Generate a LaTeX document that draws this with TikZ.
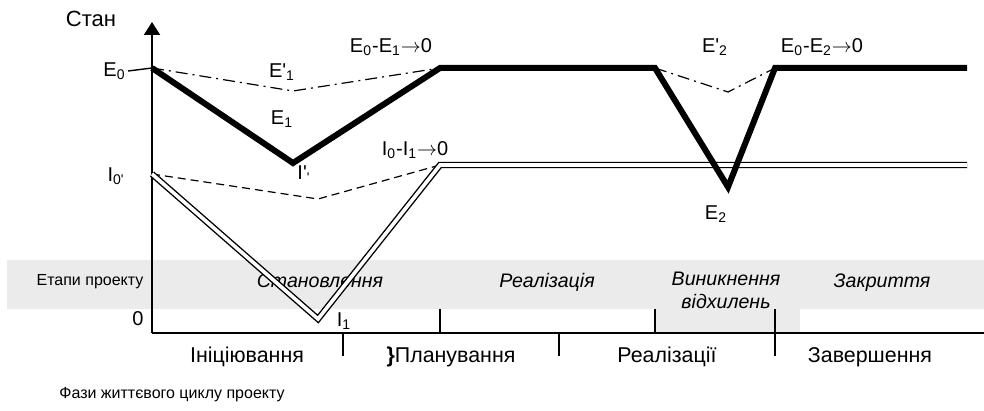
\documentclass[tikz,border=0pt]{standalone}
\usepackage{fontspec}
\setmainfont{Liberation Sans}
\usetikzlibrary{arrows.meta}
\definecolor{bandgray}{HTML}{EBEBEB}
\tikzset{
  axis/.style={draw=black,line width=1.1pt},
  tick/.style={draw=black,line width=0.7pt},
  state line/.style={draw=black,line width=3pt,line join=miter},
  ideal line/.style={draw=black,line width=0.6pt,
    dash pattern=on 6pt off 2.5pt on 1pt off 2.5pt},
  info line/.style={draw=black,double=white,line width=0.7pt,
    double distance=1.8pt},
  info guide/.style={draw=black,line width=0.6pt,dash pattern=on 4pt off 2.5pt},
  lbl/.style={font=\fontsize{10}{12}\selectfont,inner sep=1pt},
  phase/.style={font=\fontsize{10.7}{13}\selectfont,inner sep=1pt,anchor=base},
  stage/.style={font=\fontsize{9.8}{11.5}\selectfont\itshape,inner sep=1pt,
    align=center,anchor=base},
  small/.style={font=\fontsize{8}{9.5}\selectfont,inner sep=1pt}
}
\newcommand{\pr}{\textquotesingle}

\begin{document}
\begin{tikzpicture}[x=0.5pt,y=-0.5pt]
  \useasboundingbox (0,0) rectangle (984,411);

  % stages band
  \fill[bandgray] (7,260) rectangle (984,309);
  \fill[bandgray] (655,309) rectangle (800,333);
  \node[small] (stages) at (90,282) {Етапи проекту};
  \node[stage] (st1) at (320,287) {Становлення};
  \node[stage] (st2) at (547,287) {Реалізація};
  \node[stage] (st3) at (726,308) {Виникнення\\відхилень};
  \node[stage] (st4) at (882,287) {Закриття};

  % axes
  \coordinate (O) at (152,333);
  \coordinate (ytop) at (152,22);
  \coordinate (xend) at (984,333);
  \draw[axis] (xend) -- (O);
  \draw[axis,-{Triangle[length=6.5pt,width=8pt]}] (O) -- (ytop);
  \node[lbl,font=\fontsize{11}{13}\selectfont,anchor=base] (stan) at (91,27) {Стан};
  \node[lbl] (zero) at (138,319) {0};

  % stage ticks above, phase ticks below
  \foreach \x in {440,655}
    \draw[tick] (\x,309) -- (\x,333);
  \draw[tick] (775,309) -- (775,356);
  \foreach \x in {343,559}
    \draw[tick] (\x,333) -- (\x,356);

  \node[phase] (ph1) at (247,362) {Ініціювання};
  \node[phase] (ph2) at (451,362) {\textbf{\}}Планування};
  \node[phase] (ph3) at (667,362) {Реалізації};
  \node[phase] (ph4) at (870,362) {Завершення};
  \node[small] (phases) at (172,395) {Фази життєвого циклу проекту};

  % state points
  \coordinate (E0) at (152,68);
  \coordinate (E1) at (293,163);
  \coordinate (Ea) at (440,68);
  \coordinate (Eb) at (655,68);
  \coordinate (E2) at (728,187);
  \coordinate (Ec) at (775,68);
  \coordinate (Eend) at (967,68);
  \coordinate (E1i) at (293,91);
  \coordinate (E2i) at (728,92);
  \coordinate (I0) at (152,174);
  \coordinate (I1) at (318,319);
  \coordinate (Ia) at (440,165);
  \coordinate (Iend) at (967,165);
  \coordinate (I1i) at (318,199);

  \node[lbl,anchor=east] (e0) at (128,71) {E\textsubscript{0}};
  \draw[tick] (e0.east) -- (E0);
  \node[lbl,anchor=east] (i0) at (127,176) {I\textsubscript{0\pr}};

  % ideal trajectories
  \draw[ideal line] (E0) -- (E1i) -- (Ea);
  \draw[ideal line] (Eb) -- (E2i) -- (Ec);
  \draw[info guide] (I0) -- (I1i) -- (Ia);

  % real trajectories
  \draw[info line] (I0) -- (I1) -- (Ia) -- (Iend);
  \draw[state line] (E0) -- (E1) -- (Ea) -- (Eb) -- (E2) -- (Ec) -- (Eend);

  % labels
  \node[lbl] (le1i) at (282,72) {E\pr\textsubscript{1}};
  \node[lbl] (le1) at (282,119) {E\textsubscript{1}};
  \node[lbl] (lip) at (304,174) {I\pr\textsubscript{\pr}};
  \node[lbl] (le1c) at (391,47) {E\textsubscript{0}-E\textsubscript{1}$\rightarrow$0};
  \node[lbl] (li1c) at (415,150) {I\textsubscript{0}-I\textsubscript{1}$\rightarrow$0};
  \node[lbl] (li1) at (344,321) {I\textsubscript{1}};
  \node[lbl] (le2i) at (715,47) {E\pr\textsubscript{2}};
  \node[lbl] (le2c) at (822,47) {E\textsubscript{0}-E\textsubscript{2}$\rightarrow$0};
  \node[lbl] (le2) at (716,214) {E\textsubscript{2}};
\end{tikzpicture}
\end{document}
